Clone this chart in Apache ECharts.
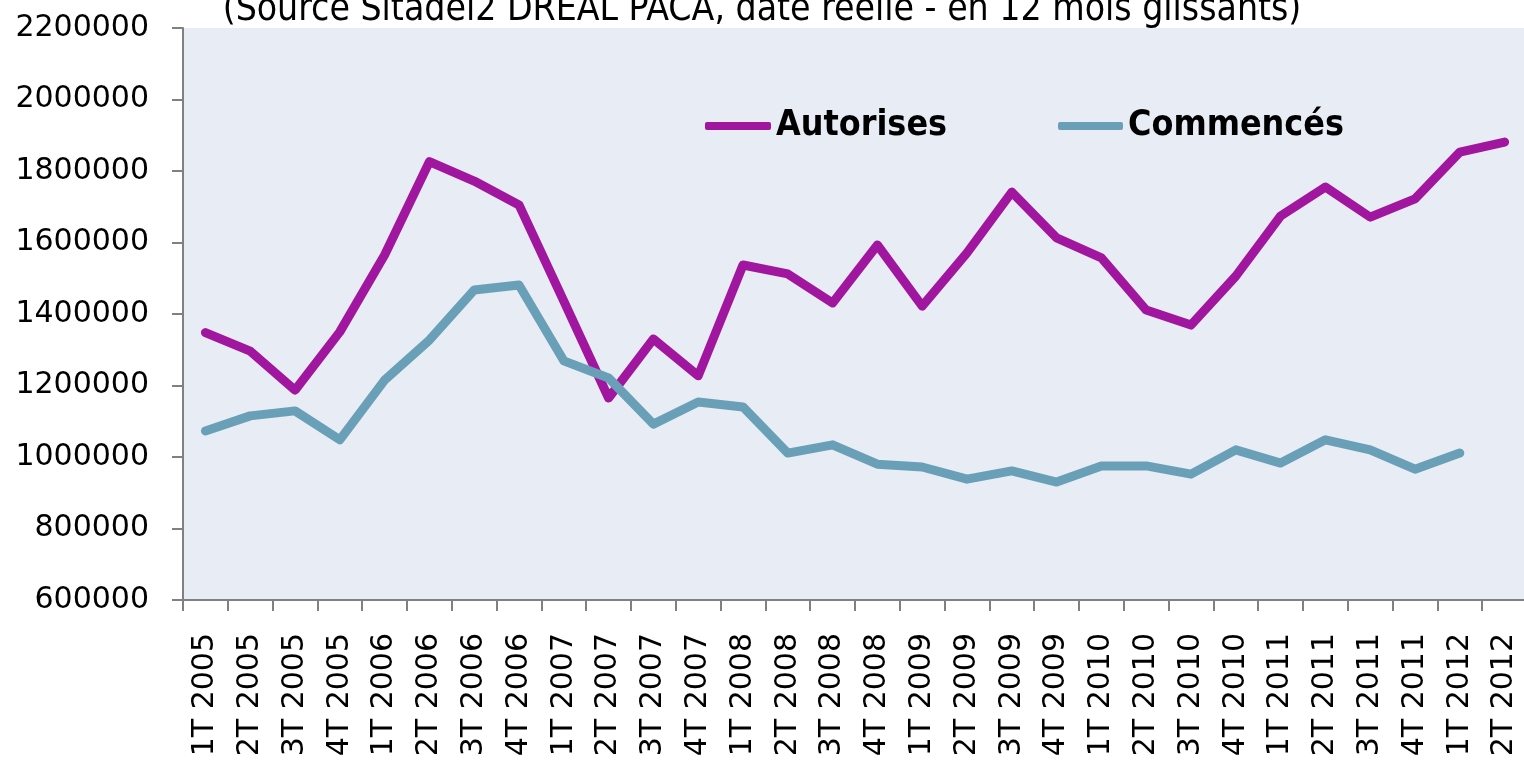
<!DOCTYPE html>
<html lang="fr">
<head>
    <meta charset="UTF-8">
    <title>Autorises / Commencés</title>
    <style>
        html, body { margin: 0; padding: 0; background: #fff; }
        #chart { width: 1524px; height: 762px; }
    </style>
</head>
<body>
<div id="chart"></div>
<script src="https://cdn.jsdelivr.net/npm/echarts@6/dist/echarts.min.js"></script>
<script>
    // trimestres
    var categories = [
        '1T 2005', '2T 2005', '3T 2005', '4T 2005',
        '1T 2006', '2T 2006', '3T 2006', '4T 2006',
        '1T 2007', '2T 2007', '3T 2007', '4T 2007',
        '1T 2008', '2T 2008', '3T 2008', '4T 2008',
        '1T 2009', '2T 2009', '3T 2009', '4T 2009',
        '1T 2010', '2T 2010', '3T 2010', '4T 2010',
        '1T 2011', '2T 2011', '3T 2011', '4T 2011',
        '1T 2012', '2T 2012'
    ];
    var autorises = [
        1348000, 1296000, 1187000, 1350000,
        1565000, 1826000, 1772000, 1705000,
        1436000, 1165000, 1330000, 1227000,
        1537000, 1512000, 1431000, 1593000,
        1422000, 1571000, 1741000, 1613000,
        1557000, 1411000, 1369000, 1506000,
        1674000, 1755000, 1671000, 1722000,
        1853000, 1881000
    ];
    var commences = [
        1073000, 1115000, 1129000, 1048000,
        1215000, 1327000, 1467000, 1481000,
        1269000, 1221000, 1092000, 1154000,
        1140000, 1011000, 1034000, 980000,
        972000, 938000, 961000, 930000,
        975000, 975000, 952000, 1020000,
        983000, 1048000, 1020000, 966000,
        1011000, null
    ];
    var yTicks = { min: 600000, max: 2200000, step: 200000 };

    var chart = echarts.init(document.getElementById('chart'));
    var axisGrey = '#808080';
    var narrow = '"Liberation Sans Narrow", "DejaVu Sans Condensed", sans-serif';

    chart.setOption({
        animation: false,
        backgroundColor: '#ffffff',
        title: {
            text: '(Source Sitadel2 DREAL PACA, date réelle - en 12 mois glissants)',
            left: 'center',
            top: -13,
            textStyle: { fontFamily: narrow, fontWeight: 'normal', fontSize: 37, color: '#000' }
        },
        legend: [
            {
                data: ['Autorises'],
                left: 700, top: 103,
                itemWidth: 66, itemHeight: 8, icon: 'roundRect',
                textStyle: { fontFamily: narrow, fontWeight: 'bold', fontSize: 35.5, color: '#000' }
            },
            {
                data: ['Commencés'],
                left: 1053, top: 103,
                itemWidth: 65, itemHeight: 8, icon: 'roundRect',
                textStyle: { fontFamily: narrow, fontWeight: 'bold', fontSize: 35.5, color: '#000' }
            }
        ],
        grid: {
            left: 183, top: 28, right: -3, bottom: 162,
            outerBoundsMode: 'none',
            show: true, backgroundColor: '#E8ECF4', borderWidth: 0
        },
        xAxis: {
            type: 'category',
            data: categories,
            boundaryGap: true,
            axisLine: { lineStyle: { color: axisGrey, width: 2 } },
            axisTick: { show: true, length: 11, interval: 0, lineStyle: { color: axisGrey, width: 2 } },
            axisLabel: {
                interval: 0, rotate: 90, margin: 33,
                fontFamily: '"DejaVu Sans", Verdana, sans-serif',
                fontSize: 30, color: '#000'
            },
            splitLine: { show: false }
        },
        yAxis: {
            type: 'value',
            min: yTicks.min, max: yTicks.max, interval: yTicks.step,
            axisLine: { show: true, lineStyle: { color: axisGrey, width: 2 } },
            axisTick: { show: true, length: 11, lineStyle: { color: axisGrey, width: 2 } },
            axisLabel: {
                margin: 34,
                formatter: function (v) { return String(v); },
                fontFamily: '"DejaVu Sans", Verdana, sans-serif',
                fontSize: 30, color: '#000'
            },
            splitLine: { show: false }
        },
        series: [
            {
                name: 'Autorises',
                type: 'line',
                data: autorises,
                symbol: 'none',
                itemStyle: { color: '#A1169F' },
                lineStyle: { color: '#A1169F', width: 9, cap: 'round', join: 'round' }
            },
            {
                name: 'Commencés',
                type: 'line',
                data: commences,
                symbol: 'none',
                itemStyle: { color: '#6AA0B7' },
                lineStyle: { color: '#6AA0B7', width: 9, cap: 'round', join: 'round' }
            }
        ]
    });
</script>
</body>
</html>
